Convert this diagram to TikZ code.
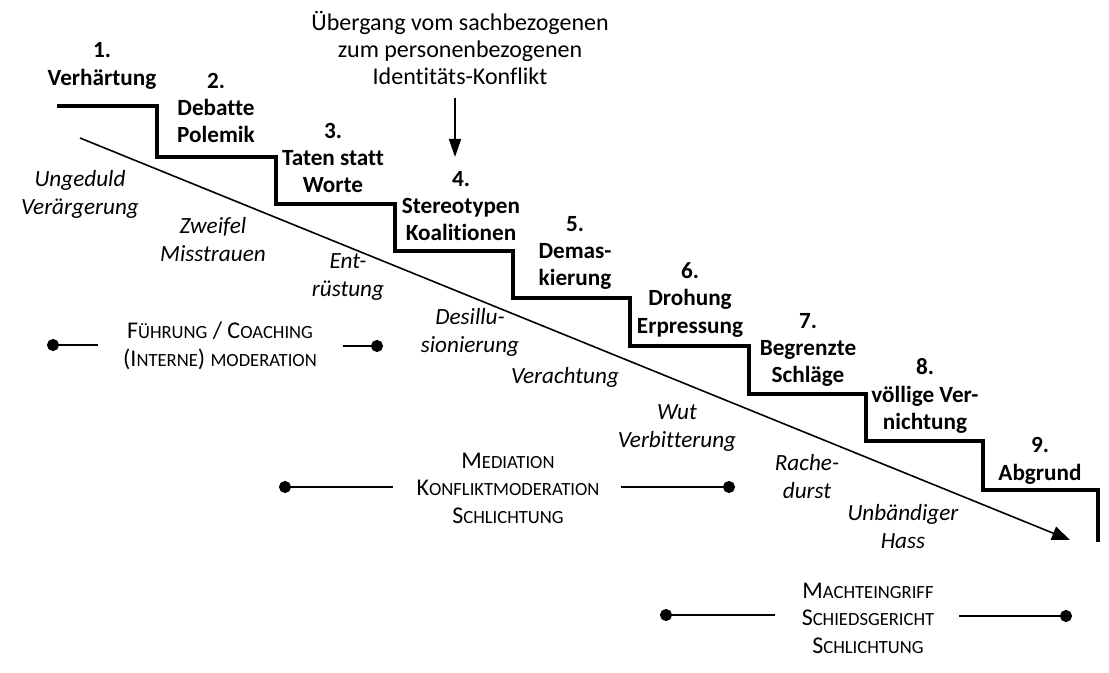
\documentclass[tikz,border=0pt]{standalone}
\usepackage{fontspec}
\setmainfont[Ligatures=NoCommon]{Carlito}
\usetikzlibrary{arrows.meta}
\newcommand\kap{\fontsize{9.3}{10}\selectfont}
\begin{document}
\begin{tikzpicture}
[x=0.5pt, y=-0.5pt,
 stage/.style={align=center, font=\fontsize{11.6}{13.7}\selectfont\bfseries, inner sep=0pt},
 feel/.style={align=center, font=\fontsize{11.6}{14}\selectfont\itshape, inner sep=0pt},
 help/.style={align=center, font=\fontsize{12}{13.7}\selectfont, inner sep=0pt},
 dotline/.style={line width=1pt, -{Circle[length=6pt]}}]
\useasboundingbox (0,0) rectangle (1109,673);
% staircase
\draw[line width=2.4pt, line join=miter] (57,106) -| (157,157) -| (276,204) -| (395,251)
  -| (513,298) -| (630,346) -| (749,394) -| (866,441) -| (983,490) -| (1098,542);
% escalation
\coordinate (d1) at (80,138);
\coordinate (d2) at (1070,540);
\draw[line width=0.8pt, -{Triangle[length=9pt, width=7pt]}] (d1) -- (d2);
% stages
\node[stage] (s1) at (102,66) {1.\\Verhärtung};
\node[stage] (s2) at (216,108) {2.\\Debatte\\Polemik};
\node[stage] (s3) at (333,158) {3.\\Taten statt\\Worte};
\node[stage] (s4) at (461,206) {4.\\Stereotypen\\Koalitionen};
\node[stage] (s5) at (575,253) {5.\\Demas-\\kierung};
\node[stage] (s6) at (690,300) {6.\\Drohung\\Erpressung};
\node[stage] (s7) at (808,350) {7.\\Begrenzte\\Schläge};
\node[stage] (s8) at (925,396) {8.\\völlige Ver-\\nichtung};
\node[stage] (s9) at (1040,461) {9.\\Abgrund};
% transition
\node[help] (ueb) at (460,48) {Übergang vom sachbezogenen\\zum personenbezogenen\\Identitäts-Konflikt};
\coordinate (u2) at (455,157);
\draw[line width=0.8pt, -{Triangle[length=9pt, width=6pt]}] (ueb.south -| u2) ++(0,12) -- (u2);
% feelings
\node[feel] (f1) at (80,194) {Ungeduld\\Verärgerung};
\node[feel] (f2) at (213,240) {Zweifel\\Misstrauen};
\node[feel] (f3) at (348,277) {Ent-\\rüstung};
\node[feel] (f4) at (470,332) {Desillu-\\sionierung};
\node[feel] (f5) at (565,377) {Verachtung};
\node[feel] (f6) at (677,428) {Wut\\Verbitterung};
\node[feel] (f7) at (807,477) {Rache-\\durst};
\node[feel] (f8) at (903,527) {Unbändiger\\Hass};
% interventions
\node[help] (h1) at (220,346) {F{\kap ÜHRUNG} / C{\kap OACHING}\\(I{\kap NTERNE}) {\kap MODERATION}};
\node[help] (h2) at (508,488) {M{\kap EDIATION}\\K{\kap ONFLIKTMODERATION}\\S{\kap CHLICHTUNG}};
\node[help] (h3) at (868,618) {M{\kap ACHTEINGRIFF}\\S{\kap CHIEDSGERICHT}\\S{\kap CHLICHTUNG}};
\coordinate (a1) at (98,345);  \coordinate (a2) at (47,345);
\coordinate (b1) at (343,346); \coordinate (b2) at (383,346);
\coordinate (c1) at (393,487); \coordinate (c2) at (279,487);
\coordinate (e1) at (621,487); \coordinate (e2) at (735,487);
\coordinate (g1) at (775,615); \coordinate (g2) at (660,615);
\coordinate (k1) at (959,616); \coordinate (k2) at (1072,616);
\draw[dotline] (a1) -- (a2);
\draw[dotline] (b1) -- (b2);
\draw[dotline] (c1) -- (c2);
\draw[dotline] (e1) -- (e2);
\draw[dotline] (g1) -- (g2);
\draw[dotline] (k1) -- (k2);
\end{tikzpicture}
\end{document}
